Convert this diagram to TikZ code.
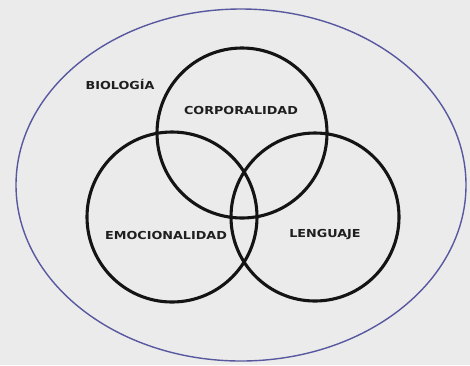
\documentclass[tikz,border=0pt]{standalone}
\usepackage{fontspec}
\setmainfont{DejaVu Sans}
\begin{document}
\begin{tikzpicture}[x=1pt,y=-1pt,
  ring/.style={draw=black!92,line width=3.1pt},
  label/.style={font=\bfseries\fontsize{11}{13}\selectfont,text=black!88,inner sep=0pt,xscale=1.16}]
  % canvas
  \fill[black!8] (0,0) rectangle (470,365);
  \useasboundingbox (0,0) rectangle (470,365);
  % surrounding field
  \draw[color={rgb,255:red,88;green,88;blue,160},line width=1.4pt] (241,185) ellipse [x radius=225,y radius=176];
  % three overlapping circles
  \draw[ring] (242,133) circle [radius=85];
  \draw[ring] (172,217) circle [radius=85];
  \draw[ring] (315,217) circle [radius=84];
  % labels
  \node[label] (bio) at (120,84) {BIOLOGÍA};
  \node[label] (corp) at (241,110) {CORPORALIDAD};
  \node[label] (emo) at (166,235) {EMOCIONALIDAD};
  \node[label] (len) at (325,235) {LENGUAJE};
\end{tikzpicture}
\end{document}
